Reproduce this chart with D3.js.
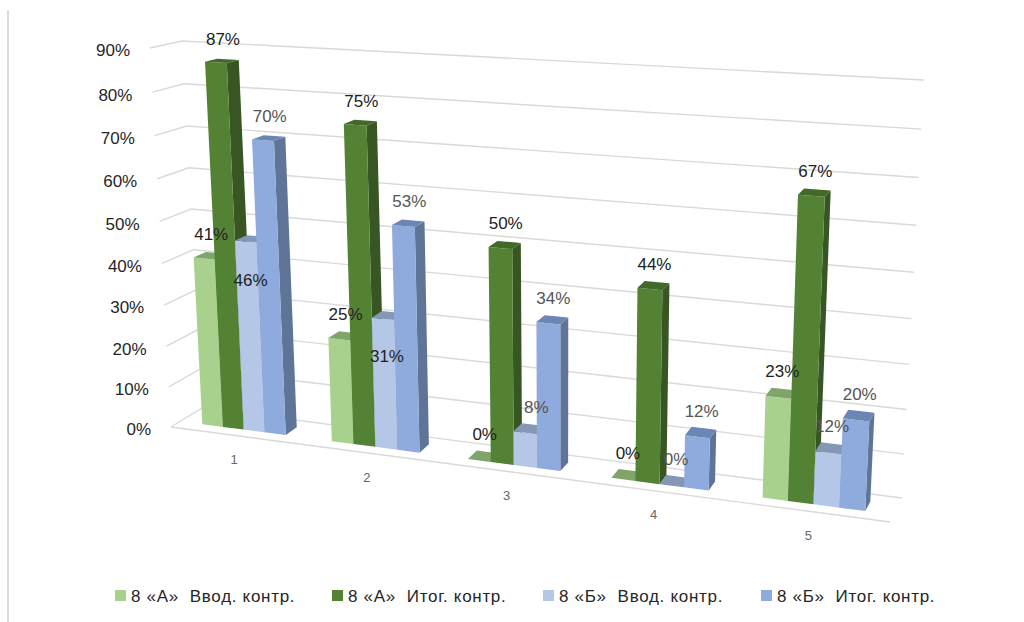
<!DOCTYPE html>
<html>
<head>
<meta charset="utf-8">
<script src="https://cdn.jsdelivr.net/npm/d3@7/dist/d3.min.js"></script>
<style>
  html, body { margin: 0; padding: 0; background: #fff; }
  svg { display: block; font-family: "Liberation Sans", Arial, sans-serif; }
  text { white-space: pre; }
</style>
</head>
<body>
<svg id="chart" width="1024" height="622"></svg>
<script>
// Chart data
const categories = ["1", "2", "3", "4", "5"];
const seriesNames = ["8 «А»  Ввод. контр.", "8 «А»  Итог. контр.", "8 «Б»  Ввод. контр.", "8 «Б»  Итог. контр."];
const introA = [41, 25, 0, 0, 23];
const finalA = [87, 75, 50, 44, 67];
const introB = [46, 31, 8, 0, 12];
const finalB = [70, 53, 34, 12, 20];
const seriesValues = [introA, finalA, introB, finalB];
const axisTicks = [0, 10, 20, 30, 40, 50, 60, 70, 80, 90];

// Face colours of each series: front, side, top
const frontColors = ["#a9d18e", "#548235", "#b4c7e7", "#8faadc"];
const sideColors = ["#7fa56b", "#375623", "#8497b6", "#5f7598"];
const topColors = ["#7fa56b", "#42692a", "#8497b6", "#6b85b5"];
const labelColors = ["#222", "#222", "#555", "#555"];

// Corners of the chart box on screen, for its back and front planes
const backPlane = { bl: [202, 408], tl: [182, 41], tr: [924, 80], br: [902, 498] };
const frontPlane = { bl: [171, 427], tl: [150, 48], tr: [910, 94], br: [890, 522] };

// Maps the unit square onto a quadrilateral with a projective transform
function homography(q) {
  const [x0, y0] = q.bl, [x1, y1] = q.br, [x2, y2] = q.tr, [x3, y3] = q.tl;
  const dx1 = x1 - x2, dx2 = x3 - x2, sx = x0 - x1 + x2 - x3;
  const dy1 = y1 - y2, dy2 = y3 - y2, sy = y0 - y1 + y2 - y3;
  const den = dx1 * dy2 - dx2 * dy1;
  const g = (sx * dy2 - dx2 * sy) / den;
  const h = (dx1 * sy - sx * dy1) / den;
  const a = x1 - x0 + g * x1, b = x3 - x0 + h * x3;
  const d = y1 - y0 + g * y1, e = y3 - y0 + h * y3;
  return (u, v) => {
    const w = g * u + h * v + 1;
    return [(a * u + b * v + x0) / w, (d * u + e * v + y0) / w];
  };
}
const onBack = homography(backPlane);
const onFront = homography(frontPlane);

// u: along the categories, v: up the value axis, z: 0 at the back wall, 1 at the front edge
function project(u, v, z) {
  const p = onBack(u, v), q = onFront(u, v);
  return [p[0] + (q[0] - p[0]) * z, p[1] + (q[1] - p[1]) * z];
}

const xBand = d3.scaleBand().domain(categories).range([0, 1]).paddingInner(0.35).paddingOuter(0.175);
const xSeries = d3.scaleBand().domain(d3.range(seriesNames.length)).range([0, xBand.bandwidth()]);
const yValue = d3.scaleLinear().domain([0, 90]).range([0, 1]);

const barFrontZ = 0.7;
const barBackZ = 0.3;

const svg = d3.select("#chart");
const outline = d3.line();

// Thin rule along the left edge of the page
svg.append("line").attr("x1", 8).attr("x2", 8).attr("y1", 10).attr("y2", 622)
  .attr("stroke", "#dedede").attr("stroke-width", 2);

// Grid: back wall, left wall and floor
const grid = svg.append("g").attr("fill", "none").attr("stroke", "#d9d9d9").attr("stroke-width", 1.4);
grid.selectAll("path.tick").data(axisTicks).join("path").attr("class", "tick")
  .attr("d", t => outline([project(0, yValue(t), 1), project(0, yValue(t), 0), project(1, yValue(t), 0)]));
grid.append("path").attr("d", outline([project(0, 0, 1), project(1, 0, 1)]));

// Value axis labels, set against the front edge of the left wall
svg.append("g").selectAll("text").data(axisTicks).join("text")
  .attr("x", t => project(0, yValue(t), 1)[0] - 20)
  .attr("y", t => project(0, yValue(t), 1)[1] + 2.5)
  .attr("dy", "0.35em")
  .attr("text-anchor", "end").attr("font-size", 17).attr("fill", "#262626")
  .text(t => t + "%");

// Category labels below the floor
svg.append("g").selectAll("text").data(categories).join("text")
  .attr("x", c => project(xBand(c) + xBand.bandwidth() / 2, 0, 1)[0] - 1)
  .attr("y", c => project(xBand(c) + xBand.bandwidth() / 2, 0, 1)[1] + 24)
  .attr("dy", "0.35em")
  .attr("text-anchor", "middle").attr("font-size", 13).attr("fill", "#666")
  .text(c => c);

// Bars are painted left to right so each front face covers its neighbour's side
const bars = [];
categories.forEach((c, ci) => {
  seriesValues.forEach((values, si) => {
    bars.push({ c, ci, si, value: values[ci] });
  });
});

const barLayer = svg.append("g");
bars.forEach(b => {
  const u0 = xBand(b.c) + xSeries(b.si);
  const u1 = u0 + xSeries.bandwidth();
  const v = yValue(b.value);
  const g = barLayer.append("g");
  if (b.value > 0) {
    g.append("path").attr("fill", sideColors[b.si])
      .attr("d", outline([project(u1, 0, barFrontZ), project(u1, 0, barBackZ), project(u1, v, barBackZ), project(u1, v, barFrontZ)]) + "Z");
    g.append("path").attr("fill", frontColors[b.si])
      .attr("d", outline([project(u0, 0, barFrontZ), project(u1, 0, barFrontZ), project(u1, v, barFrontZ), project(u0, v, barFrontZ)]) + "Z");
  }
  g.append("path").attr("fill", topColors[b.si])
    .attr("d", outline([project(u0, v, barFrontZ), project(u1, v, barFrontZ), project(u1, v, barBackZ), project(u0, v, barBackZ)]) + "Z");
});

// Value labels above each bar; the first two 8 «Б» entry labels sit on the bar itself,
// and the label of the short bar in group 3 moves right, clear of its tall neighbour
const labelBelowTop = (b) => b.si === 2 && b.ci < 2;
const labelShiftX = (b) => (b.si === 2 && b.ci === 2 ? 7 : 1) - (labelBelowTop(b) ? 2 : 0);
const labelAnchor = (b) => project(xBand(b.c) + xSeries(b.si) + xSeries.bandwidth() / 2, yValue(b.value), (barFrontZ + barBackZ) / 2);
svg.append("g").selectAll("text").data(bars).join("text")
  .attr("x", b => labelAnchor(b)[0] + labelShiftX(b))
  .attr("y", b => labelAnchor(b)[1] + (labelBelowTop(b) ? 41 : -22))
  .attr("dy", "0.35em")
  .attr("text-anchor", "middle").attr("font-size", 17)
  .attr("fill", b => labelBelowTop(b) ? "#222" : labelColors[b.si])
  .text(b => b.value + "%");

// Legend
const legendX = d3.scaleOrdinal().domain(d3.range(4)).range([115, 332, 543, 761]);
const legend = svg.append("g").selectAll("g").data(seriesNames).join("g")
  .attr("transform", (d, i) => `translate(${legendX(i)},596)`);
legend.append("rect").attr("x", 0).attr("y", -6).attr("width", 11).attr("height", 11)
  .attr("fill", (d, i) => frontColors[i]);
legend.append("text").attr("x", 16).attr("dy", "0.35em")
  .attr("font-size", 17).attr("letter-spacing", 0.7).attr("fill", "#262626").text(d => d);
</script>
</body>
</html>
